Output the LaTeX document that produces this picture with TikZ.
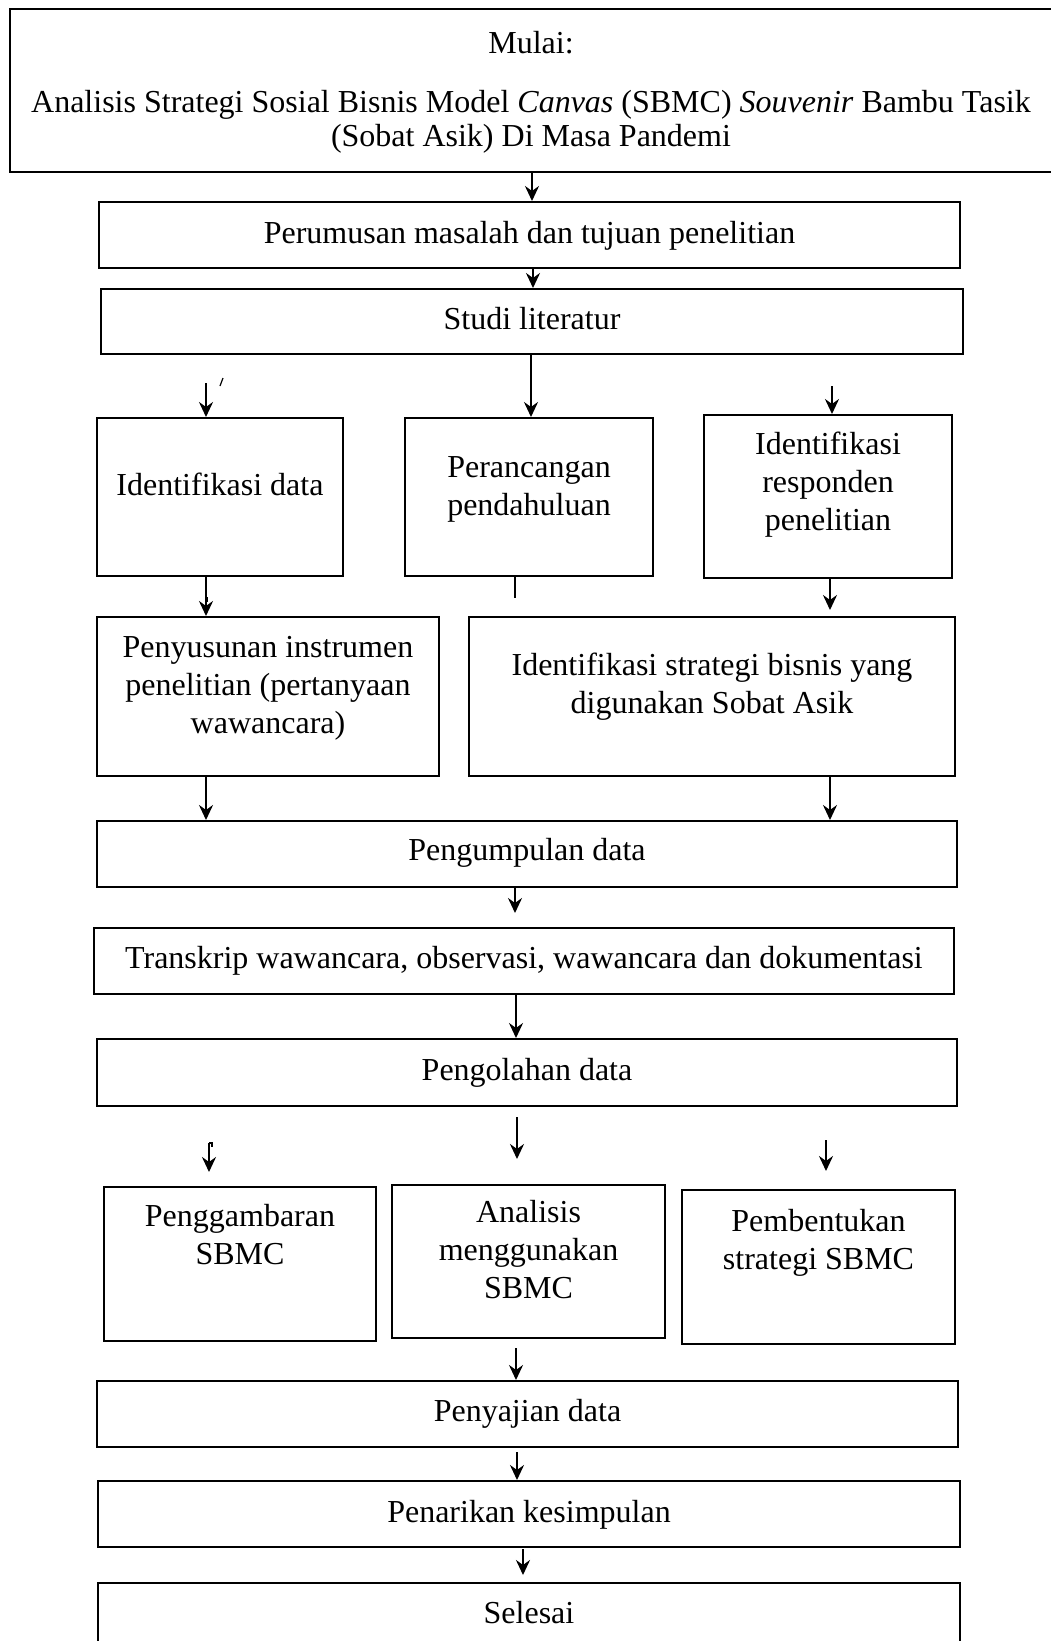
\documentclass[tikz,border=0pt]{standalone}
\usepackage{fontspec}
\setmainfont{Liberation Serif}
\usetikzlibrary{arrows.meta}
\begin{document}
\begin{tikzpicture}[x=1pt,y=-1pt,
  box/.style={draw, line width=2pt, inner sep=0pt},
  txt/.style={align=center, inner sep=0pt, anchor=base, font=\fontsize{32}{38}\selectfont},
  arr/.style={line width=2.2pt, -{Stealth[length=15pt,width=14pt,inset=5pt]}},
  ln/.style={line width=2pt},
  stray/.style={line width=1.2pt}]
\clip (0,0) rectangle (1051,1641);
\fill[white] (0,0) rectangle (1051,1641);
% boxes
\node[box, minimum width=1060pt, minimum height=163pt] (mulai) at (540,90.5) {};
\node[box, minimum width=861pt, minimum height=66pt] (perumusan) at (529.5,235) {};
\node[box, minimum width=862pt, minimum height=65pt] (studi) at (532,321.5) {};
\node[box, minimum width=246pt, minimum height=158pt] (idata) at (220,497) {};
\node[box, minimum width=247.5pt, minimum height=158pt] (peranc) at (529,497) {};
\node[box, minimum width=248pt, minimum height=163pt] (resp) at (828,496.5) {};
\node[box, minimum width=342pt, minimum height=159pt] (penyus) at (268,696.5) {};
\node[box, minimum width=486pt, minimum height=159pt] (strat) at (712,696.5) {};
\node[box, minimum width=860pt, minimum height=66pt] (pengump) at (527,854) {};
\node[box, minimum width=860pt, minimum height=66pt] (transk) at (524,961) {};
\node[box, minimum width=860pt, minimum height=67pt] (pengol) at (527,1072.5) {};
\node[box, minimum width=272pt, minimum height=154pt] (pengg) at (240,1264) {};
\node[box, minimum width=273pt, minimum height=153pt] (anal) at (528.5,1261.5) {};
\node[box, minimum width=273pt, minimum height=154pt] (pemb) at (818.5,1267) {};
\node[box, minimum width=861pt, minimum height=66pt] (penyaj) at (527.5,1414) {};
\node[box, minimum width=861.5pt, minimum height=66pt] (penar) at (529,1514) {};
\node[box, minimum width=861.5pt, minimum height=117pt] (seles) at (529,1641.5) {};
% texts (anchor=base is the baseline of the last line)
\node[txt] (tmulai) at (531,146) {Mulai:\\[21pt]Analisis Strategi Sosial Bisnis Model \textit{Canvas} (SBMC) \textit{Souvenir} Bambu Tasik\\[-4pt](Sobat Asik) Di Masa Pandemi};
\node[txt] (tperumusan) at (529.5,243) {Perumusan masalah dan tujuan penelitian};
\node[txt] (tstudi) at (532,329) {Studi literatur};
\node[txt] (tidata) at (220,495) {Identifikasi data};
\node[txt] (tperanc) at (529,515) {Perancangan\\pendahuluan};
\node[txt] (tresp) at (828,530) {Identifikasi\\responden\\penelitian};
\node[txt] (tpenyus) at (268,733) {Penyusunan instrumen\\penelitian (pertanyaan\\wawancara)};
\node[txt] (tstrat) at (712,713) {Identifikasi strategi bisnis yang\\digunakan Sobat Asik};
\node[txt] (tpengump) at (527,860) {Pengumpulan data};
\node[txt] (ttransk) at (524,968) {Transkrip wawancara, observasi, wawancara dan dokumentasi};
\node[txt] (tpengol) at (527,1080) {Pengolahan data};
\node[txt] (tpengg) at (240,1264) {Penggambaran\\SBMC};
\node[txt] (tanal) at (528.5,1298) {Analisis\\menggunakan\\SBMC};
\node[txt] (tpemb) at (818.5,1269) {Pembentukan\\strategi SBMC};
\node[txt] (tpenyaj) at (527.5,1421) {Penyajian data};
\node[txt] (tpenar) at (529,1522) {Penarikan kesimpulan};
\node[txt] (tseles) at (529,1623) {Selesai};
% free ends
\coordinate (c1) at (206,383);
\coordinate (c2) at (832,386);
\coordinate (c3) at (515,598);
\coordinate (c4) at (830,610);
\coordinate (c5) at (515,913);
\coordinate (c6s) at (517,1117);
\coordinate (c6e) at (517,1159);
\coordinate (c7s) at (209,1143);
\coordinate (c7e) at (209,1172);
\coordinate (c8s) at (826,1140);
\coordinate (c8e) at (826,1171);
\coordinate (c9) at (516,1348);
\coordinate (c10) at (517,1452);
\coordinate (c11s) at (523,1549);
\coordinate (c11e) at (523,1575);
% connectors
\draw[arr] (532,0 |- mulai.south) -- (532,0 |- perumusan.north);
\draw[arr] (533,0 |- perumusan.south) -- (533,0 |- studi.north);
\draw[arr] (531,0 |- studi.south) -- (531,0 |- peranc.north);
\draw[arr] (c1) -- (c1 |- idata.north);
\draw[arr] (c2) -- (c2 |- resp.north);
\draw[arr] (206,0 |- idata.south) -- (206,0 |- penyus.north);
\draw[ln] (c3 |- peranc.south) -- (c3);
\draw[arr] (c4 |- resp.south) -- (c4);
\draw[arr] (206,0 |- penyus.south) -- (206,0 |- pengump.north);
\draw[arr] (830,0 |- strat.south) -- (830,0 |- pengump.north);
\draw[arr] (c5 |- pengump.south) -- (c5);
\draw[arr] (516,0 |- transk.south) -- (516,0 |- pengol.north);
\draw[arr] (c6s) -- (c6e);
\draw[arr] (c7s) -- (c7e);
\draw[arr] (c8s) -- (c8e);
\draw[arr] (c9) -- (c9 |- penyaj.north);
\draw[arr] (c10) -- (c10 |- penar.north);
\draw[arr] (c11s) -- (c11e);
% stray marks
\draw[stray] (220,386) -- (223,378);
\draw[stray] (207.5,597) -- (207.5,602);
\draw[stray] (209,1143) -- (212,1143) -- (212,1147);
\end{tikzpicture}
\end{document}
